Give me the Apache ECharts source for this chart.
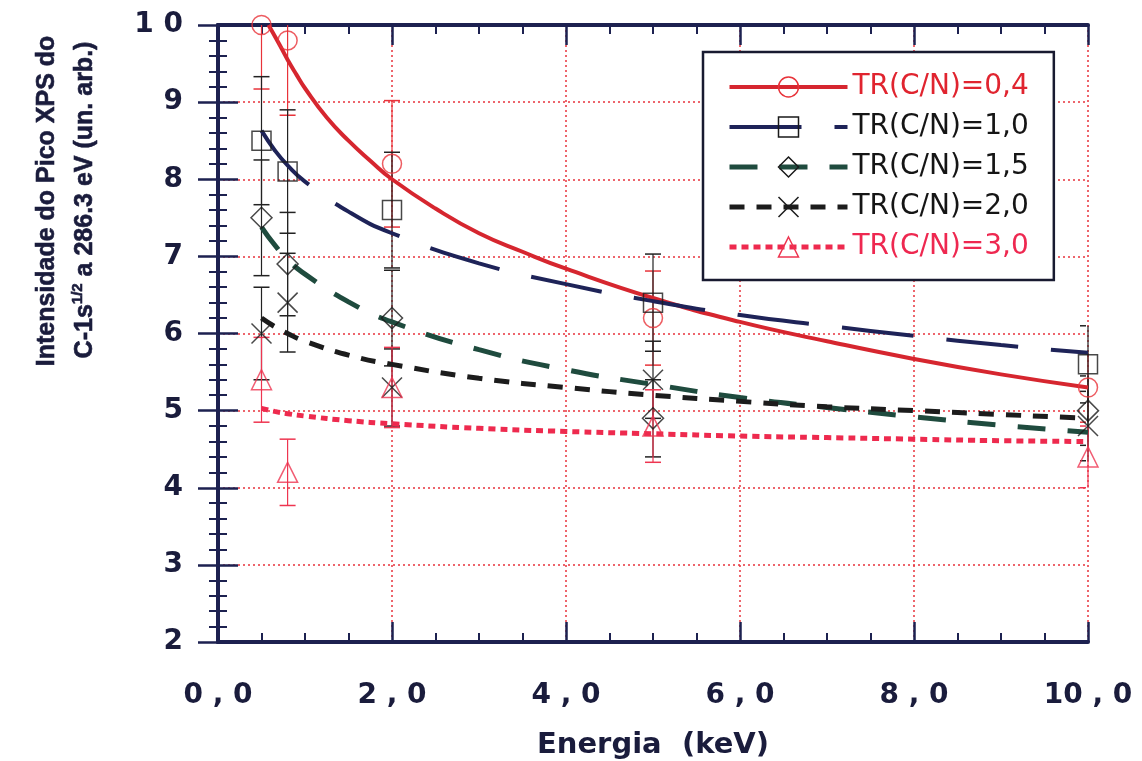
<!DOCTYPE html>
<html><head><meta charset="utf-8">
<script src="https://cdn.jsdelivr.net/npm/echarts@6/dist/echarts.min.js"></script>
<style>html,body{margin:0;padding:0;background:#fff}#c{width:1142px;height:761px}</style>
</head><body><div id="c"></div>
<script>
// ---- data ----
const seriesNames = ['TR(C/N)=0,4', 'TR(C/N)=1,0', 'TR(C/N)=1,5', 'TR(C/N)=2,0', 'TR(C/N)=3,0'];
const energyPts = [0.5, 0.8, 2.0, 5.0, 10.0];
const pts04 = [10.0, 9.8, 8.2, 6.2, 5.3];
const err04 = [0.83, 0.97, 0.82, 0.61, 0.45];
const pts10 = [8.5, 8.1, 7.6, 6.4, 5.6];
const err10 = [0.83, 0.8, 0.75, 0.63, 0.5];
const pts15 = [7.5, 6.9, 6.2, 4.9, 5.0];
const err15 = [0.75, 0.67, 0.62, 0.5, 0.45];
const pts20 = [6.0, 6.4, 5.3, 5.4, 4.8];
const err20 = [0.6, 0.64, 0.5, 0.5, 0.45];
const pts30 = [5.4, 4.2, 5.3, 4.8, 4.4];
const err30 = [0.55, 0.43, 0.52, 0.47, 0.4];
// fitted curves
const fitX04 = [0.58, 0.7, 0.8, 0.9, 1.0, 1.25, 1.5, 1.75, 2, 2.5, 3, 3.5, 4, 5, 6, 7, 8, 9, 10];
const fit04 = [10.0, 9.76, 9.55, 9.36, 9.18, 8.8, 8.5, 8.24, 8.0, 7.62, 7.3, 7.06, 6.84, 6.46, 6.15, 5.9, 5.67, 5.47, 5.3];
const fitX = [0.5, 0.65, 0.8, 1.0, 1.5, 2, 3, 4, 5, 6, 7, 8, 9, 10];
const fit10 = [8.63, 8.38, 8.18, 7.97, 7.58, 7.3, 6.91, 6.64, 6.42, 6.24, 6.1, 5.97, 5.85, 5.75];
const fit15 = [7.38, 7.15, 6.96, 6.77, 6.41, 6.15, 5.79, 5.53, 5.34, 5.17, 5.04, 4.92, 4.81, 4.72];
const fit20 = [6.2, 6.09, 6.0, 5.9, 5.72, 5.6, 5.42, 5.3, 5.2, 5.12, 5.05, 5.0, 4.95, 4.9];
const fit30 = [5.03, 4.99, 4.96, 4.93, 4.87, 4.83, 4.77, 4.73, 4.70, 4.67, 4.65, 4.63, 4.61, 4.6];
const xTickLabels = {0: '0 , 0', 2: '2 , 0', 4: '4 , 0', 6: '6 , 0', 8: '8 , 0', 10: '10 , 0'};
const yTickLabels = {2: '2', 3: '3', 4: '4', 5: '5', 6: '6', 7: '7', 8: '8', 9: '9', 10: '1 0'};

// ---- styles ----
const FONT = "'Liberation Sans', Arial, Helvetica, sans-serif";
const WFONT = "'DejaVu Sans', 'Liberation Sans', sans-serif";
const FRAME = '#1d2150';
const LABEL = '#1a1c3c';
const GRID = '#e8333d';
const C04 = '#d6262f', C10 = '#1e2358', C15 = '#1f4b3e', C20 = '#1c1c1c', C30 = '#ee2a4e';
const MK04 = '#e8333a', MK30 = '#ee3550', MKD = '#1a1a1a';
const CROSS = 'path://M0 0L10 10M10 0L0 10';

function pairs(xs, ys) { return xs.map((x, i) => [x, ys[i]]); }
function errData(ys, es) { return energyPts.map((x, i) => [x, ys[i] - es[i], ys[i] + es[i]]); }

function errRender(color) {
  return function (params, api) {
    const x = api.value(0), lo = api.value(1), hi = api.value(2);
    const pLo = api.coord([x, lo]), pHi = api.coord([x, hi]);
    const cs = params.coordSys;
    const top = cs.y, bot = cs.y + cs.height, right = cs.x + cs.width;
    const hw = 8;
    const children = [];
    const y1 = Math.max(pHi[1], top), y2 = Math.min(pLo[1], bot);
    children.push({type: 'line', shape: {x1: pLo[0], y1: y1, x2: pLo[0], y2: y2}, style: {stroke: color, lineWidth: 1.2}});
    [pHi[1], pLo[1]].forEach(function (py) {
      if (py >= top && py <= bot) {
        children.push({type: 'line', shape: {x1: pLo[0] - hw, y1: py, x2: Math.min(pLo[0] + hw, right - 2), y2: py}, style: {stroke: color, lineWidth: 1.5}});
      }
    });
    return {type: 'group', children: children};
  };
}

function errSeries(ys, es, color) {
  return {type: 'custom', data: errData(ys, es), encode: {x: 0, y: [1, 2]}, renderItem: errRender(color), z: 1, silent: true};
}
function lineSeries(name, xs, ys, color, width, dash, symbol) {
  return {name: name, type: 'line', data: pairs(xs, ys), smooth: true, showSymbol: false, symbol: symbol, symbolSize: 20,
    lineStyle: {color: color, width: width, type: dash}, itemStyle: {color: color}, z: 3, silent: true};
}
function markSeries(ys, symbol, color, size) {
  return {type: 'scatter', data: pairs(energyPts, ys), symbol: symbol, symbolSize: size, clip: false,
    itemStyle: {color: 'transparent', borderColor: color, borderWidth: 1.5}, z: 4, silent: true};
}

const axisCommon = {
  axisLine: {show: true, lineStyle: {color: FRAME, width: 4}},
  axisTick: {show: true, inside: true, length: 20, lineStyle: {color: FRAME, width: 2.5}},
  minorTick: {show: true, length: 9, lineStyle: {color: FRAME, width: 2}},
};

const chart = echarts.init(document.getElementById('c'), null, {renderer: 'canvas'});
chart.setOption({
  animation: false,
  backgroundColor: '#fff',
  grid: {left: 218, right: 54, top: 25, bottom: 119, containLabel: false},
  xAxis: [
    Object.assign({type: 'value', min: 0, max: 10, interval: 2, position: 'bottom',
      axisLabel: {margin: 40, fontFamily: WFONT, fontWeight: 'bold', fontSize: 28, color: LABEL,
        formatter: v => xTickLabels[v] !== undefined ? xTickLabels[v] : ''},
      splitLine: {show: true, lineStyle: {color: GRID, type: [2, 3], width: 1.5}}}, axisCommon,
      {minorTick: Object.assign({splitNumber: 4}, axisCommon.minorTick)}),
    Object.assign({type: 'value', min: 0, max: 10, interval: 2, position: 'top',
      axisLabel: {show: false}, splitLine: {show: false}}, axisCommon,
      {minorTick: Object.assign({splitNumber: 4}, axisCommon.minorTick)})
  ],
  yAxis: [
    Object.assign({type: 'value', min: 2, max: 10, interval: 1, position: 'left',
      axisLabel: {margin: 35, fontFamily: WFONT, fontWeight: 'bold', fontSize: 28, color: LABEL,
        formatter: v => yTickLabels[v] !== undefined ? yTickLabels[v] : ''},
      splitLine: {show: true, lineStyle: {color: GRID, type: [2, 3], width: 1.5}}}, axisCommon,
      {minorTick: Object.assign({splitNumber: 5}, axisCommon.minorTick)}),
    Object.assign({type: 'value', min: 2, max: 10, interval: 1, position: 'right',
      axisLabel: {show: false}, splitLine: {show: false}}, axisCommon,
      {minorTick: Object.assign({splitNumber: 5}, axisCommon.minorTick)})
  ],
  legend: {
    orient: 'vertical', left: 703, top: 52, selectedMode: false,
    padding: [21, 25, 19, 24], itemGap: 12, itemWidth: 118, itemHeight: 25,
    backgroundColor: '#fff', borderColor: '#181a30', borderWidth: 2.5, borderRadius: 0,
    textStyle: {fontFamily: WFONT, fontSize: 28, color: '#151515'},
    data: [
      {name: seriesNames[0], textStyle: {color: '#e0242f'}, lineStyle: {color: C04, width: 4, type: 'solid'},
        itemStyle: {color: 'transparent', borderColor: MK04, borderWidth: 1.5}},
      {name: seriesNames[1], lineStyle: {color: C10, width: 4, type: [72, 33]},
        itemStyle: {color: 'transparent', borderColor: MKD, borderWidth: 1.5}},
      {name: seriesNames[2], lineStyle: {color: C15, width: 5, type: [28, 22]},
        itemStyle: {color: 'transparent', borderColor: MKD, borderWidth: 1.5}},
      {name: seriesNames[3], lineStyle: {color: C20, width: 5, type: [15, 12]},
        itemStyle: {color: 'transparent', borderColor: MKD, borderWidth: 1.5}},
      {name: seriesNames[4], textStyle: {color: '#ee2850'}, lineStyle: {color: C30, width: 5, type: [7, 5]},
        itemStyle: {color: 'transparent', borderColor: MK30, borderWidth: 1.5}}
    ]
  },
  graphic: [
    {type: 'text', x: 47, y: 201, rotation: Math.PI / 2, z: 10,
      style: {text: 'Intensidade do Pico XPS do', fontFamily: FONT, fontWeight: 'bold', fontSize: 25,
        fill: LABEL, stroke: LABEL, lineWidth: 0.6, align: 'center', verticalAlign: 'middle'}},
    {type: 'text', x: 85, y: 200, rotation: Math.PI / 2, z: 10,
      style: {text: 'C-1s{sup|1/2} a 286.3 eV (un. arb.)', fontFamily: FONT, fontWeight: 'bold', fontSize: 25,
        fill: LABEL, stroke: LABEL, lineWidth: 0.6, align: 'center', verticalAlign: 'middle',
        rich: {sup: {fontFamily: FONT, fontWeight: 'bold', fontSize: 15, fill: LABEL, verticalAlign: 'top', lineHeight: 30}}}},
    {type: 'text', x: 653, y: 745, z: 10,
      style: {text: 'Energia  (keV)', fontFamily: WFONT, fontWeight: 'bold', fontSize: 29,
        fill: LABEL, align: 'center', verticalAlign: 'middle'}}
  ],
  series: [
    errSeries(pts04, err04, '#e8333a'),
    errSeries(pts10, err10, '#222'),
    errSeries(pts15, err15, '#222'),
    errSeries(pts20, err20, '#222'),
    errSeries(pts30, err30, '#ee3550'),
    lineSeries(seriesNames[0], fitX04, fit04, C04, 4, 'solid', 'circle'),
    lineSeries(seriesNames[1], fitX, fit10, C10, 4, [72, 33], 'rect'),
    lineSeries(seriesNames[2], fitX, fit15, C15, 5, [28, 22], 'diamond'),
    lineSeries(seriesNames[3], fitX, fit20, C20, 5, [15, 12], CROSS),
    lineSeries(seriesNames[4], fitX, fit30, C30, 5, [7, 5], 'triangle'),
    markSeries(pts04, 'circle', MK04, 19),
    markSeries(pts10, 'rect', MKD, 19),
    markSeries(pts15, 'diamond', MKD, 21),
    markSeries(pts20, CROSS, MKD, 20),
    markSeries(pts30, 'triangle', MK30, 20)
  ]
});
</script>
</body></html>
